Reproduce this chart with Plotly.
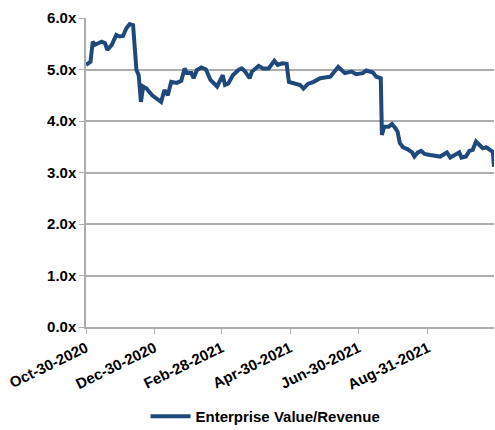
"""
EV/Revenue multiple chart
"""

import plotly.graph_objects as go

LINE_COLOR = "#1F497D"
GRID_COLOR = "#ADADAD"

dates = [
    "2020-10-30", "2020-11-03", "2020-11-05", "2020-11-07", "2020-11-10", "2020-11-13",
    "2020-11-16", "2020-11-18", "2020-11-22", "2020-11-26", "2020-11-29", "2020-12-02",
    "2020-12-05", "2020-12-08", "2020-12-11", "2020-12-14", "2020-12-16", "2020-12-18",
    "2020-12-20", "2020-12-23", "2020-12-28", "2021-01-01", "2021-01-05", "2021-01-08",
    "2021-01-11", "2021-01-14", "2021-01-19", "2021-01-23", "2021-01-26", "2021-01-28",
    "2021-02-01", "2021-02-03", "2021-02-06", "2021-02-10", "2021-02-14", "2021-02-18",
    "2021-02-21", "2021-02-24", "2021-03-01", "2021-03-03", "2021-03-06", "2021-03-10",
    "2021-03-15", "2021-03-18", "2021-03-21", "2021-03-25", "2021-03-27", "2021-04-02",
    "2021-04-06", "2021-04-11", "2021-04-16", "2021-04-19", "2021-04-23", "2021-04-27",
    "2021-04-29", "2021-05-03", "2021-05-09", "2021-05-12", "2021-05-16", "2021-05-21",
    "2021-05-27", "2021-06-05", "2021-06-09", "2021-06-12", "2021-06-18", "2021-06-24",
    "2021-06-28", "2021-07-04", "2021-07-07", "2021-07-10", "2021-07-13", "2021-07-16",
    "2021-07-20", "2021-07-21", "2021-07-23", "2021-07-27", "2021-07-30", "2021-08-02",
    "2021-08-04", "2021-08-06", "2021-08-09", "2021-08-13", "2021-08-17", "2021-08-19",
    "2021-08-22", "2021-08-25", "2021-08-28", "2021-09-02", "2021-09-06", "2021-09-11",
    "2021-09-17", "2021-09-20", "2021-09-24", "2021-09-28", "2021-09-30", "2021-10-04",
    "2021-10-07", "2021-10-10", "2021-10-13", "2021-10-16", "2021-10-19", "2021-10-22",
    "2021-10-26", "2021-10-28", "2021-10-29",
]

ev_revenue = [
    5.09, 5.15, 5.54, 5.48, 5.51, 5.54,
    5.51, 5.38, 5.48, 5.67, 5.64, 5.65,
    5.80, 5.88, 5.86, 4.99, 4.89, 4.37,
    4.67, 4.63, 4.50, 4.44, 4.37, 4.60,
    4.50, 4.76, 4.74, 4.78, 5.02, 4.93,
    4.93, 4.83, 4.99, 5.04, 5.00, 4.80,
    4.73, 4.67, 4.89, 4.70, 4.73, 4.89,
    4.99, 5.02, 4.96, 4.83, 4.96, 5.07,
    5.02, 5.02, 5.17, 5.09, 5.12, 5.11,
    4.76, 4.74, 4.70, 4.63, 4.72, 4.76,
    4.83, 4.86, 4.96, 5.05, 4.93, 4.96,
    4.91, 4.93, 4.98, 4.96, 4.94, 4.86,
    4.83, 3.73, 3.89, 3.89, 3.94, 3.86,
    3.79, 3.57, 3.49, 3.45, 3.39, 3.31,
    3.39, 3.42, 3.36, 3.34, 3.32, 3.31,
    3.39, 3.29, 3.34, 3.39, 3.29, 3.31,
    3.42, 3.44, 3.60, 3.53, 3.47, 3.49,
    3.42, 3.40, 3.11,
]

tick_dates = ["2020-10-30", "2020-12-30", "2021-02-28", "2021-04-30", "2021-06-30", "2021-08-31"]
tick_labels = ["Oct-30-2020", "Dec-30-2020", "Feb-28-2021", "Apr-30-2021", "Jun-30-2021", "Aug-31-2021"]

fig = go.Figure()

fig.add_trace(go.Scatter(
    x=dates,
    y=ev_revenue,
    mode='lines',
    name='Enterprise Value/Revenue',
    line=dict(color=LINE_COLOR, width=4)
))

fig.update_layout(
    width=495,
    height=430,
    margin=dict(l=86, r=1, t=18, b=103, autoexpand=False),
    paper_bgcolor='white',
    plot_bgcolor='white',
    font=dict(family="Liberation Sans, Arial", size=15, color='black', weight='bold'),
    showlegend=True,
    legend=dict(
        orientation='h',
        x=0.44, xanchor='center',
        y=-0.29, yanchor='middle',
        itemwidth=40,
        font=dict(size=15, weight='bold'),
    ),
    xaxis=dict(
        range=["2020-10-30", "2021-10-29"],
        tickvals=tick_dates,
        ticktext=tick_labels,
        tickangle=-26,
        ticklabeloverflow='allow',
        showgrid=False,
        showline=True,
        linecolor=GRID_COLOR,
        linewidth=1.5,
        ticks='outside',
        ticklen=5,
        tickcolor=GRID_COLOR,
        zeroline=False,
    ),
    yaxis=dict(
        range=[0, 6],
        dtick=1,
        tickformat='.1f',
        ticksuffix='x',
        showgrid=True,
        gridcolor=GRID_COLOR,
        gridwidth=1.5,
        showline=True,
        linecolor=GRID_COLOR,
        linewidth=1.5,
        ticks='outside',
        ticklen=5,
        tickcolor=GRID_COLOR,
        zeroline=False,
    ),
)

# drop the default page margin so the figure sits at the window's top-left corner
fig.write_html(
    "out.html",
    config={'displayModeBar': False},
    post_script="document.body.style.margin = '0';",
)
